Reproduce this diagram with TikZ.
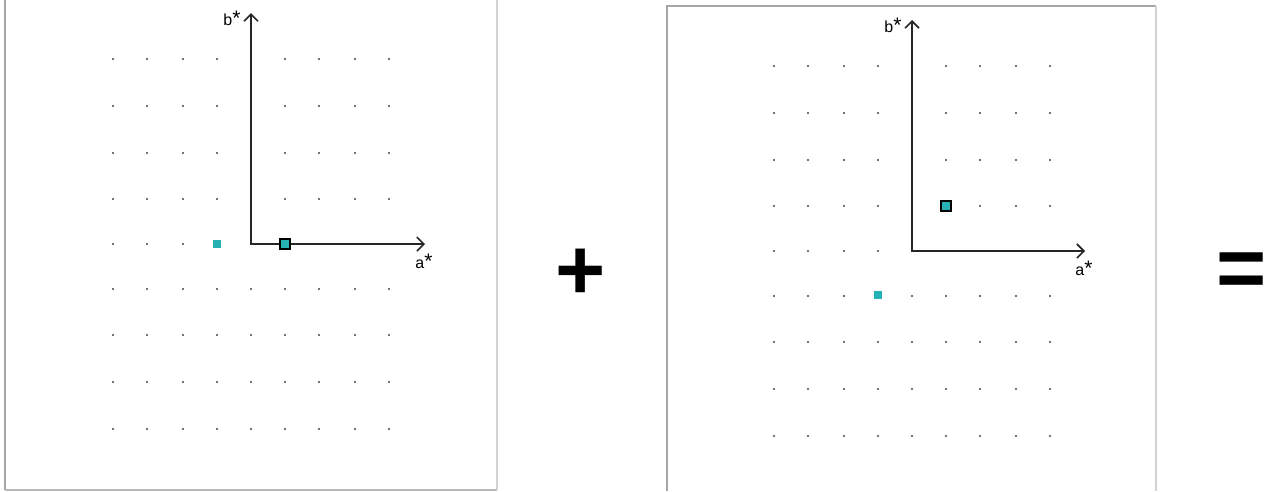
\documentclass[tikz,border=0pt]{standalone}
\usepackage{fontspec}
\newfontfamily\labelfont{Liberation Sans}
\usetikzlibrary{arrows.meta}
\definecolor{spotcyan}{RGB}{38,178,178}

\begin{document}
\begin{tikzpicture}[x=1pt,y=-1pt,>={Straight Barb[length=7pt,width=14pt]},
  panel/.style={line width=1.6pt},
  axisline/.style={<->,line width=1.6pt,black!85},
  axlabel/.style={font=\labelfont\fontsize{16}{16}\selectfont,inner sep=0pt},
  latdot/.style={fill=black!75},
  spot/.style={fill=spotcyan,minimum size=8.5pt,inner sep=0pt},
  spotring/.style={fill=spotcyan,draw=black,line width=1.3pt,minimum size=10pt,inner sep=0pt},
  opsign/.style={font=\labelfont\bfseries\fontsize{86}{86}\selectfont,inner sep=0pt}]
% 9x9 reciprocal lattice of dots: #1,#2 = origin
\newcommand{\lattice}[2]{%
  \begin{scope}[shift={(#1,#2)}]
  \foreach \dx [count=\ci] in {-138,-104,-68,-34,0,34,68,104,138}
    \foreach \dy [count=\rj] in {-185,-138,-91,-45,0,45,91,138,185} {
      \pgfmathtruncatemacro{\skipdot}{((\ci==5)&&(\rj<5)) || ((\rj==5)&&(\ci>4))}
      \ifnum\skipdot=0 \fill[latdot] (\dx,\dy) circle (1.2pt); \fi
    }
  \end{scope}
}
% a*, b* axes: #1 = prefix, #2,#3 = origin, #4 = top of b*, #5 = end of a*
\newcommand{\recipaxes}[5]{%
  \coordinate (#1o) at (#2,#3);
  \coordinate (#1a) at (#5,#3);
  \coordinate (#1b) at (#2,#4);
  \draw[axisline] (#1a) -- (#1o) -- (#1b);
  \node[axlabel] (#1alab) at (#5-1,#3+17) {a{\fontsize{21}{21}\selectfont*}};
  \node[axlabel] (#1blab) at (#2-19,#4+5) {b{\fontsize{21}{21}\selectfont*}};
}
\useasboundingbox (0,0) rectangle (1268,491);
% left panel
\draw[panel,gray!70] (5,0) -- (5,490);
\draw[panel,gray!55] (5,490) -- (497,490);
\draw[panel,gray!35] (497,0) -- (497,490);
\lattice{251}{244}
\recipaxes{l}{251}{244}{13}{425}
\node[spot] (lspot) at (217,244) {};
\node[spotring] (lring) at (285,244) {};
% plus
\node[opsign] (plus) at (580.5,274.5) {+};
% right panel
\draw[panel,gray!70] (667,491) -- (667,6) -- (1156,6);
\draw[panel,gray!35] (1156,6) -- (1156,491);
\lattice{912}{251}
\recipaxes{r}{912}{251}{20}{1085}
\node[spot] (rspot) at (878,295) {};
\node[spotring] (rring) at (946,206) {};
% equals
\node[opsign] (equals) at (1241.5,275.3) {=};
\end{tikzpicture}
\end{document}
